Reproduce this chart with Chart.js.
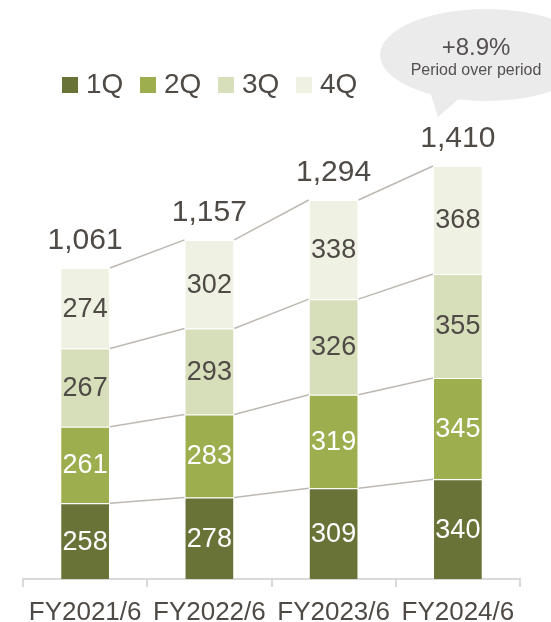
<!DOCTYPE html>
<html>
<head>
<meta charset="utf-8">
<script src="https://cdn.jsdelivr.net/npm/chart.js@4.4.1/dist/chart.umd.min.js"></script>
<style>
html,body{margin:0;padding:0;background:#fff;}
#wrap{width:551px;height:622px;}
</style>
</head>
<body>
<div id="wrap"><canvas id="salesChart" width="551" height="622"></canvas></div>
<script>
const categories = ["FY2021/6","FY2022/6","FY2023/6","FY2024/6"];
const quarterLabels = ["1Q","2Q","3Q","4Q"];
const q1Values = [258,278,309,340];
const q2Values = [261,283,319,345];
const q3Values = [267,293,326,355];
const q4Values = [274,302,338,368];
const totalValues = [1061,1157,1294,1410];
const growthText = "+8.9%";
const growthCaption = "Period over period";

const seriesValues = [q1Values,q2Values,q3Values,q4Values];
const quarterColors = ["#6a7337","#9dae4f","#d7deba","#eff2e3"];
const valueLabelColors = ["#ffffff","#ffffff","#504a46","#504a46"];
const textColor = "#504a46";
const fontFamily = "'Liberation Sans', Arial, sans-serif";

function font(size){
  return size + "px " + fontFamily;
}

// grey lines joining the tops of matching segments
const connectorPlugin = {
  id:"connectors",
  beforeDatasetsDraw(chart){
    const ctx = chart.ctx;
    ctx.save();
    ctx.strokeStyle = "#bdb8b3";
    ctx.lineWidth = 1.5;
    chart.data.datasets.forEach((ds,d) => {
      const bars = chart.getDatasetMeta(d).data;
      for(let i = 0; i < bars.length - 1; i++){
        const a = bars[i];
        const b = bars[i + 1];
        ctx.beginPath();
        ctx.moveTo(a.x + a.width / 2, a.y);
        ctx.lineTo(b.x - b.width / 2, b.y);
        ctx.stroke();
      }
    });
    ctx.restore();
  }
};

const valueLabelPlugin = {
  id:"valueLabels",
  afterDatasetsDraw(chart){
    const ctx = chart.ctx;
    ctx.save();
    ctx.textAlign = "center";
    ctx.textBaseline = "middle";
    ctx.font = font(27);
    chart.data.datasets.forEach((ds,d) => {
      chart.getDatasetMeta(d).data.forEach((bar,i) => {
        ctx.fillStyle = valueLabelColors[d];
        ctx.fillText(ds.data[i], bar.x, (bar.y + bar.base) / 2 + 1);
      });
    });

    // totals above each bar
    const topBars = chart.getDatasetMeta(chart.data.datasets.length - 1).data;
    ctx.textBaseline = "alphabetic";
    ctx.font = font(30);
    ctx.fillStyle = textColor;
    topBars.forEach((bar,i) => {
      ctx.fillText(totalValues[i].toLocaleString("en-US"), bar.x, bar.y - 19);
    });
    ctx.restore();
  }
};

const legendBubblePlugin = {
  id:"legendBubble",
  afterDraw(chart){
    const ctx = chart.ctx;
    ctx.save();

    // legend
    ctx.font = font(28);
    ctx.textAlign = "left";
    ctx.textBaseline = "alphabetic";
    chart.data.datasets.forEach((ds,i) => {
      const x = 62 + i * 78;
      ctx.fillStyle = ds.backgroundColor;
      ctx.fillRect(x, 77, 16, 16);
      ctx.fillStyle = textColor;
      ctx.fillText(ds.label, x + 24, 93);
    });

    // speech bubble
    ctx.fillStyle = "#ebebeb";
    ctx.beginPath();
    ctx.ellipse(486, 55, 106, 46, 0, 0, Math.PI * 2);
    ctx.fill();
    ctx.beginPath();
    ctx.moveTo(430, 92);
    ctx.lineTo(462, 96);
    ctx.lineTo(438, 117);
    ctx.closePath();
    ctx.fill();

    ctx.fillStyle = "#555050";
    ctx.textAlign = "center";
    ctx.font = font(24);
    ctx.fillText(growthText, 476, 55);
    ctx.font = font(16);
    ctx.fillText(growthCaption, 476, 75);

    ctx.restore();
  }
};

const ctx = document.getElementById("salesChart").getContext("2d");

new Chart(ctx,{
  type:"bar",
  data:{
    labels:categories,
    datasets:quarterLabels.map((label,i) => ({
      label,
      data:seriesValues[i],
      backgroundColor:quarterColors[i],
      borderColor:"rgba(255,255,255,0.3)",
      borderWidth:1,
      barPercentage:0.4,
      categoryPercentage:1
    }))
  },
  options:{
    responsive:false,
    animation:false,
    devicePixelRatio:1,
    layout:{ padding:{ top:139, left:23, right:31, bottom:0 } },
    plugins:{
      legend:{ display:false },
      tooltip:{ enabled:false }
    },
    scales:{
      x:{
        stacked:true,
        grid:{
          display:true,
          offset:true,
          drawOnChartArea:false,
          drawTicks:true,
          tickLength:8,
          color:"#d9d9d9",
          lineWidth:2
        },
        border:{ display:true, color:"#d9d9d9", width:2 },
        ticks:{
          color:textColor,
          font:{ family:fontFamily, size:26, lineHeight:1 },
          padding:13,
          maxRotation:0,
          autoSkip:false
        },
        afterFit(scale){
          scale.height = 43;
        }
      },
      y:{
        stacked:true,
        display:false,
        min:0,
        max:1500
      }
    }
  },
  plugins:[connectorPlugin,valueLabelPlugin,legendBubblePlugin]
});
</script>
</body>
</html>
